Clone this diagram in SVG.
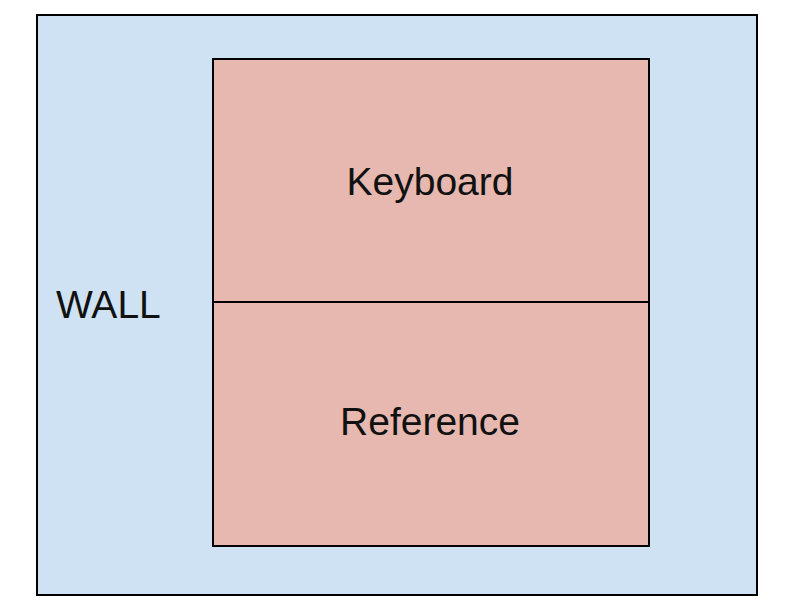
<svg xmlns="http://www.w3.org/2000/svg" width="804" height="606" viewBox="0 0 804 606">
<style>
.t{font-family:"Liberation Sans",Arial,sans-serif;font-size:39px;fill:#111}
.box{fill:#e6b8af;stroke:#000;stroke-width:2}
</style>
<rect width="804" height="606" fill="#fff"/>
<g id="wall">
<rect x="37" y="15" width="720" height="580" fill="#cfe2f3" stroke="#000" stroke-width="2"/>
<text class="t" x="56" y="318">WALL</text>
</g>
<g id="keyboard">
<rect class="box" x="213" y="59" width="436" height="243"/>
<text class="t" x="430" y="195" text-anchor="middle">Keyboard</text>
</g>
<g id="reference">
<rect class="box" x="213" y="302" width="436" height="244"/>
<text class="t" x="430" y="435" text-anchor="middle">Reference</text>
</g>
<g id="connectors"/>
</svg>
